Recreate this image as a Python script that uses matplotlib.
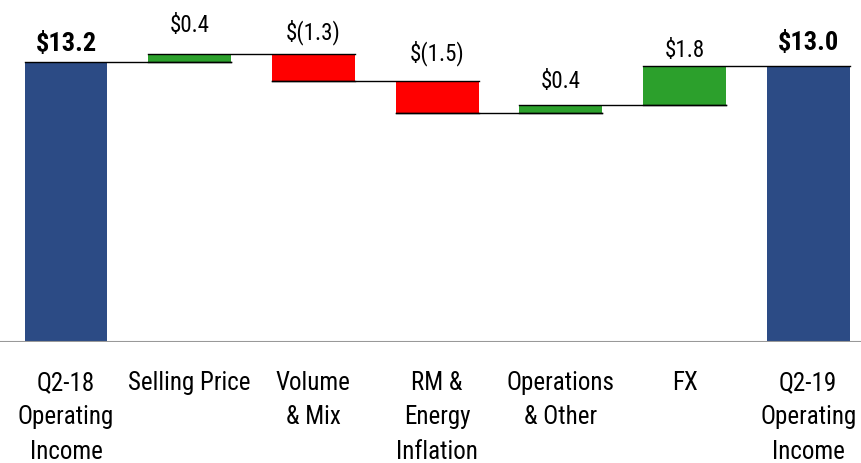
import matplotlib
matplotlib.use("Agg")
import matplotlib.pyplot as plt
import numpy as np

categories = ["Q2-18\nOperating\nIncome", "Selling Price", "Volume\n& Mix",
              "RM &\nEnergy\nInflation", "Operations\n& Other", "FX",
              "Q2-19\nOperating\nIncome"]
start_total = 13.2
changes = [0.4, -1.3, -1.5, 0.4, 1.8]
end_total = 13.0
labels = ["$13.2", "$0.4", "$(1.3)", "$(1.5)", "$0.4", "$1.8", "$13.0"]
# gap between bar top and label, in points
label_gap = [5, 13, 7, 12, 9, 4, 9]

blue = "#2c4b85"
green = "#2ca02c"
red = "#ff0000"
narrow = ["Roboto Condensed", "Liberation Sans Narrow", "Lato", "DejaVu Sans"]

fig = plt.figure(figsize=(8.62, 4.64), dpi=100)
ax = fig.add_axes([0, 121 / 464, 1, 343 / 464])

n = len(categories)
x = np.arange(n)
w = 0.67

# running levels
levels = [start_total]
for c in changes:
    levels.append(levels[-1] + c)

bottoms, heights, colors = [0], [start_total], [blue]
for i, c in enumerate(changes):
    lo = min(levels[i], levels[i + 1])
    bottoms.append(lo)
    heights.append(abs(c))
    colors.append(green if c > 0 else red)
bottoms.append(0)
heights.append(end_total)
colors.append(blue)

ax.bar(x, heights, bottom=bottoms, width=w, color=colors, zorder=2)

# connector lines
for i in range(n - 1):
    lvl = levels[i]
    ax.plot([x[i] - w / 2, x[i + 1] + w / 2], [lvl, lvl], color="black", lw=1.0, zorder=3)
# bottom edges of the floating bars
for i in range(1, n - 1):
    b = bottoms[i]
    ax.plot([x[i] - w / 2, x[i] + w / 2], [b, b], color="black", lw=1.0, zorder=3)

# value labels
for i in range(n):
    top = bottoms[i] + heights[i]
    bold = i in (0, n - 1)
    ax.annotate(labels[i], (x[i], top), xytext=(0, label_gap[i]), textcoords="offset points",
                ha="center", va="bottom", family=narrow,
                fontsize=19 if bold else 16.5, fontweight="bold" if bold else "normal")

ax.set_xlim(-66 / 123.7, (862 - 66) / 123.7)
ax.set_ylim(0, 343 / 21.2)
ax.axhline(0, color="#999999", lw=1.5, zorder=4)
ax.set_xticks(x)
ax.set_xticklabels(categories, family=narrow, fontsize=18, linespacing=1.55)
ax.tick_params(axis="x", length=0, pad=20)
ax.set_yticks([])
for s in ax.spines.values():
    s.set_visible(False)

fig.savefig("out.png", dpi=100)
